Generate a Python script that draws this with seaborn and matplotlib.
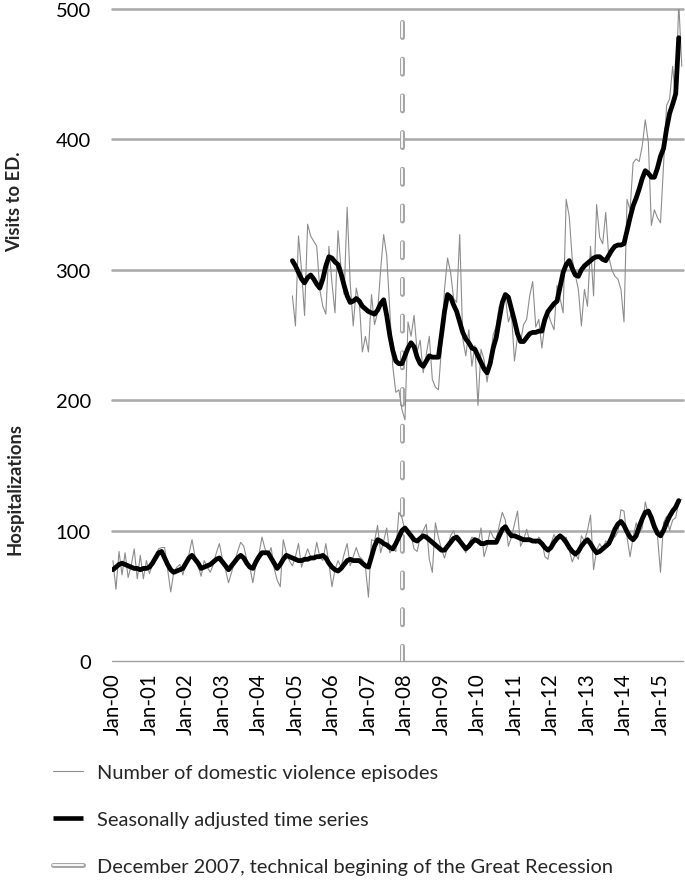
import numpy as np
import pandas as pd
import matplotlib
matplotlib.use("Agg")
import matplotlib.pyplot as plt
from matplotlib.lines import Line2D
from matplotlib.legend_handler import HandlerTuple
import seaborn as sns

# ---------------- data (month index 0 = Jan 2000) ----------------
HOSP_START = 0
hosp_raw = [77, 55, 84, 66, 83, 64, 73, 86, 63, 81, 63, 77, 67, 74, 80, 86, 87, 87, 70, 53,
            68, 72, 74, 66, 76, 82, 93, 80, 73, 65, 77, 72, 68, 74, 83, 90, 78, 70, 60, 68,
            76, 84, 91, 88, 78, 72, 60, 74, 82, 95, 86, 81, 87, 71, 62, 57, 93, 83, 77, 73,
            80, 90, 72, 79, 86, 80, 78, 91, 80, 77, 90, 75, 57, 70, 77, 72, 82, 90, 73, 80,
            87, 80, 78, 72, 49, 93, 92, 104, 83, 92, 102, 83, 86, 84, 114, 110, 100, 98, 96, 86,
            84, 95, 100, 105, 78, 68, 106, 95, 86, 79, 87, 96, 100, 92, 95, 88, 83, 90, 95, 94,
            90, 102, 80, 88, 100, 95, 93, 104, 114, 108, 88, 95, 105, 115, 88, 93, 101, 92, 93, 90,
            95, 92, 80, 78, 90, 97, 92, 97, 92, 95, 85, 76, 82, 78, 96, 92, 100, 112, 70, 85,
            90, 86, 92, 91, 96, 95, 99, 116, 115, 95, 80, 95, 106, 98, 102, 122, 112, 105, 99, 96,
            68, 106, 111, 100, 108, 110, 122, 124]
hosp_adj = [70, 72, 74, 75, 74, 73, 72, 71, 71, 70, 71, 71, 72, 75, 79, 83, 84, 79, 74, 70,
            68, 69, 70, 71, 75, 79, 81, 78, 75, 71, 72, 73, 74, 76, 78, 79, 76, 73, 70, 73,
            76, 79, 81, 79, 75, 72, 71, 76, 80, 83, 83, 83, 79, 75, 71, 74, 78, 81, 80, 79,
            78, 77, 77, 78, 78, 79, 79, 80, 80, 81, 79, 75, 72, 70, 69, 71, 74, 77, 78, 77,
            77, 77, 75, 73, 72, 80, 88, 93, 92, 90, 89, 87, 86, 90, 95, 100, 102, 99, 96, 93,
            92, 94, 96, 95, 93, 91, 89, 87, 85, 85, 88, 91, 94, 95, 92, 89, 86, 88, 91, 93,
            92, 90, 90, 91, 91, 91, 91, 96, 101, 103, 99, 96, 96, 95, 94, 93, 93, 93, 92, 92,
            92, 90, 87, 85, 87, 91, 94, 96, 94, 91, 87, 84, 82, 84, 88, 91, 93, 90, 86, 83,
            84, 86, 88, 90, 95, 101, 105, 107, 104, 99, 95, 93, 96, 103, 109, 114, 115, 110, 103, 98,
            96, 100, 106, 111, 115, 118, 123]

ED_START = 59
ed_raw = [280, 257, 326, 300, 265, 335, 326, 322, 318, 285, 272, 266, 318, 290, 267, 330, 300, 281, 348, 290,
          257, 286, 275, 237, 249, 237, 281, 258, 267, 300, 327, 311, 270, 226, 206, 208, 193, 185, 260, 249,
          265, 237, 246, 221, 235, 249, 216, 210, 208, 240, 285, 309, 298, 278, 275, 327, 247, 234, 254, 226,
          242, 196, 239, 231, 214, 231, 250, 257, 272, 276, 279, 260, 267, 230, 249, 245, 258, 262, 280, 291,
          256, 262, 240, 258, 267, 260, 254, 288, 278, 267, 354, 341, 308, 296, 285, 257, 285, 272, 318, 280,
          350, 325, 320, 344, 310, 300, 295, 293, 285, 260, 354, 346, 382, 385, 383, 395, 415, 398, 334, 346,
          340, 336, 380, 426, 431, 456, 430, 505, 456]
ed_adj = [307, 303, 298, 293, 290, 294, 296, 293, 289, 286, 293, 303, 310, 309, 306, 304, 297, 288, 280, 275,
          276, 278, 276, 272, 270, 268, 267, 266, 269, 274, 277, 265, 250, 238, 230, 228, 228, 234, 240, 244,
          241, 233, 228, 226, 230, 234, 233, 233, 233, 250, 268, 281, 279, 273, 268, 260, 252, 247, 244, 240,
          239, 234, 229, 224, 221, 228, 240, 248, 262, 275, 281, 279, 270, 261, 251, 245, 245, 248, 251, 252,
          252, 253, 253, 262, 268, 271, 274, 276, 287, 298, 304, 307, 301, 296, 295, 300, 303, 305, 307, 309,
          310, 310, 308, 307, 311, 315, 318, 319, 319, 320, 330, 340, 349, 355, 362, 370, 376, 374, 371, 371,
          378, 387, 393, 408, 420, 427, 435, 478]

RECESSION_MONTH = 95          # December 2007
RECESSION_TOP = 490
tick_months = [0, 12, 24, 36, 48, 60, 72, 84, 96, 108, 120, 132, 144, 156, 168, 180]
tick_labels = ["Jan-00", "Jan-01", "Jan-02", "Jan-03", "Jan-04", "Jan-05", "Jan-06", "Jan-07",
               "Jan-08", "Jan-09", "Jan-10", "Jan-11", "Jan-12", "Jan-13", "Jan-14", "Jan-15"]
y_ticks = [0, 100, 200, 300, 400, 500]

labels = ["Number of domestic violence episodes",
          "Seasonally adjusted time series",
          "December 2007, technical begining of the Great Recession"]

# ---------------- frames ----------------
def frame(vals, start):
    return pd.DataFrame({"month": np.arange(start, start + len(vals)), "value": vals})

df_hr, df_ha = frame(hosp_raw, HOSP_START), frame(hosp_adj, HOSP_START)
df_er, df_ea = frame(ed_raw, ED_START), frame(ed_adj, ED_START)

# ---------------- style ----------------
sns.set_theme(style="white")
plt.rcParams["font.family"] = ["Lato", "DejaVu Sans"]
PX = 0.72  # points per pixel at dpi 100

fig = plt.figure(figsize=(6.85, 8.87), dpi=100)
ax = fig.add_axes([111.7 / 685, 1 - 662 / 887, (683 - 111.7) / 685, 652 / 887])

RAW_C = "#8c8c8c"
GRID_C = "#ababab"

for v in y_ticks[1:]:
    ax.axhline(v, color=GRID_C, lw=2.6 * PX, zorder=0, clip_on=False)
ax.axhline(0, color="#a0a0a0", lw=1.4 * PX, zorder=0, clip_on=False)

sns.lineplot(data=df_hr, x="month", y="value", ax=ax, color=RAW_C, lw=1.1 * PX, zorder=2)
sns.lineplot(data=df_er, x="month", y="value", ax=ax, color=RAW_C, lw=1.1 * PX, zorder=2)
sns.lineplot(data=df_ha, x="month", y="value", ax=ax, color="black", lw=4.8 * PX, zorder=3,
             solid_joinstyle="round")
sns.lineplot(data=df_ea, x="month", y="value", ax=ax, color="black", lw=4.8 * PX, zorder=3,
             solid_joinstyle="round")

# recession marker: hollow dashes (outer gray, inner white)
rec_c = "#a6a6a6"
outer_w, inner_w = 5.0, 1.8
on_px, off_px = 15.0, 21.7
ax.plot([RECESSION_MONTH, RECESSION_MONTH], [RECESSION_TOP, 0], color=rec_c, lw=outer_w * PX,
        dashes=(on_px / outer_w, off_px / outer_w), dash_capstyle="round", zorder=1)
ax.plot([RECESSION_MONTH, RECESSION_MONTH], [RECESSION_TOP, 0], color="white", lw=inner_w * PX,
        dashes=(on_px / inner_w, off_px / inner_w), dash_capstyle="round", zorder=1)

ax.set_xlim(-0.4, 187.4)
ax.set_ylim(0, 500)
ax.set_yticks(y_ticks)
ax.set_yticklabels([str(t) for t in y_ticks])
ax.set_xticks(tick_months)
ax.set_xticklabels(tick_labels, rotation=90)
ax.tick_params(axis="y", length=0, pad=15, labelsize=14.5, labelcolor="black")
ax.tick_params(axis="x", length=0, pad=8, labelsize=14.8, labelcolor="black")
ax.set_xlabel("")
ax.set_ylabel("")
for s in ax.spines.values():
    s.set_visible(False)

fig.text(15 / 685, 1 - 202 / 887, "Visits to ED.", rotation=90, fontweight="bold",
         fontsize=13.2, ha="center", va="center")
fig.text(15 / 685, 1 - 489 / 887, "Hospitalizations", rotation=90, fontweight="bold",
         fontsize=13.2, ha="center", va="center")

# legend
h_raw = Line2D([], [], color=RAW_C, lw=1.1 * PX)
h_adj = Line2D([], [], color="black", lw=4.6 * PX, solid_capstyle="butt")
h_rec = (Line2D([], [], color=rec_c, lw=outer_w * PX, solid_capstyle="round"),
         Line2D([], [], color="white", lw=inner_w * PX, solid_capstyle="round"))
fig.legend([h_raw, h_adj, h_rec], labels, loc="upper left",
           bbox_to_anchor=(53 / 685, 1 - 765 / 887), frameon=False, fontsize=14.4,
           handlelength=1.5, handletextpad=0.7, labelspacing=1.5, borderpad=0,
           borderaxespad=0, handler_map={tuple: HandlerTuple(ndivide=1)})

fig.savefig("out.png", dpi=100)
